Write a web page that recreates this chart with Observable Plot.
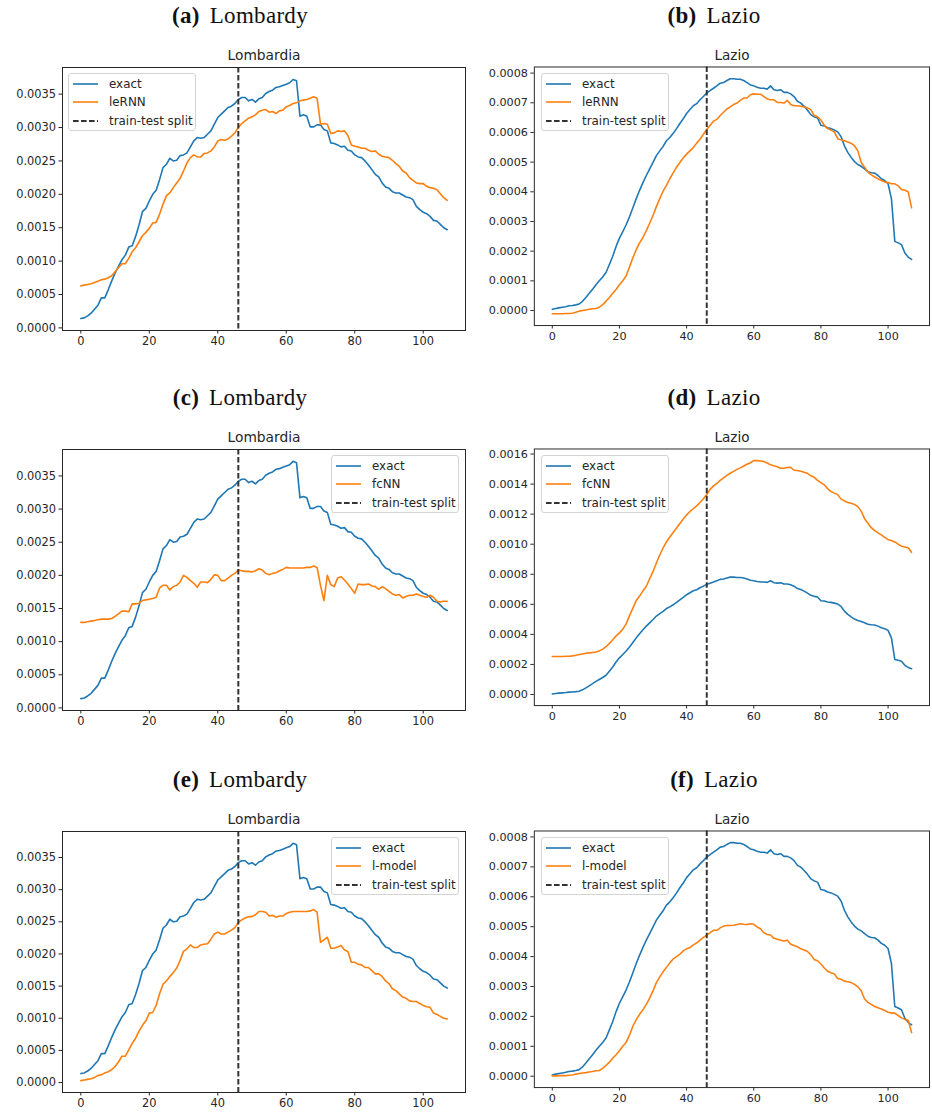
<!DOCTYPE html>
<html><head><meta charset="utf-8">
<script src="https://cdn.jsdelivr.net/npm/d3@7"></script>
<script src="https://cdn.jsdelivr.net/npm/@observablehq/plot@0.6"></script>
<style>
body{margin:0;background:#fff;}
#page{position:relative;width:932px;height:1115px;overflow:hidden;background:#fff;}
.sub{position:absolute;font-family:"Liberation Serif","DejaVu Serif",serif;font-size:23px;color:#111;transform:translate(-50%,-50%);white-space:nowrap;letter-spacing:0.3px;}
.sub b{font-weight:bold;margin-right:10px;}
.panel{position:absolute;}
.legend{position:absolute;box-sizing:border-box;width:128px;height:58px;border:1px solid #d4d4d4;border-radius:3px;background:rgba(255,255,255,0.85);font-family:"DejaVu Sans",sans-serif;font-size:11.9px;color:#262626;padding:0 0 0 3px;}
.legend .row{display:flex;align-items:center;height:18.6px;white-space:nowrap;}
.legend .row:first-child{margin-top:0.5px;}
.legend svg{margin-right:10px;flex:none;}
</style>
</head><body><div id="page"></div>
<script>
// x index (days) and split
const days = d3.range(108);
const splitDay = 46;
const xTicks = [0, 20, 40, 60, 80, 100];

// Lombardy series, values in units of 1e-3
const exactLombardy = [0.14,0.15,0.18,0.22,0.28,0.34,0.45,0.45,0.57,0.70,
0.82,0.92,1.02,1.09,1.21,1.23,1.37,1.54,1.74,1.79,
1.90,2.00,2.06,2.22,2.40,2.45,2.54,2.50,2.51,2.58,
2.59,2.62,2.71,2.80,2.85,2.84,2.85,2.90,2.95,3.05,
3.15,3.20,3.25,3.30,3.32,3.36,3.42,3.45,3.45,3.40,
3.42,3.38,3.43,3.45,3.51,3.54,3.56,3.60,3.61,3.63,
3.65,3.67,3.72,3.70,3.17,3.19,3.17,3.01,3.01,3.04,
3.04,2.97,2.95,2.77,2.76,2.74,2.71,2.72,2.66,2.65,
2.59,2.56,2.55,2.50,2.44,2.37,2.30,2.26,2.17,2.11,
2.09,2.04,2.02,2.02,1.99,1.96,1.95,1.92,1.82,1.77,
1.73,1.71,1.67,1.61,1.60,1.55,1.50,1.47];
const lernnLombardy = [0.63,0.64,0.65,0.66,0.68,0.70,0.72,0.73,0.75,0.78,
0.84,0.90,0.96,0.96,1.04,1.14,1.20,1.29,1.38,1.43,
1.49,1.57,1.58,1.70,1.85,1.98,2.02,2.10,2.17,2.24,
2.35,2.47,2.55,2.59,2.56,2.56,2.61,2.62,2.65,2.71,
2.80,2.82,2.81,2.83,2.87,2.92,3.00,3.06,3.10,3.14,
3.16,3.19,3.24,3.26,3.27,3.23,3.24,3.21,3.25,3.26,
3.31,3.33,3.36,3.37,3.40,3.41,3.42,3.44,3.46,3.44,
3.05,3.06,3.05,2.91,2.92,2.95,2.94,2.95,2.88,2.74,
2.72,2.71,2.69,2.69,2.66,2.64,2.65,2.60,2.57,2.56,
2.55,2.51,2.46,2.42,2.35,2.32,2.25,2.21,2.17,2.16,
2.16,2.12,2.10,2.09,2.07,2.01,1.95,1.91];
const fcnnLombardy = [1.29,1.29,1.30,1.31,1.32,1.33,1.34,1.34,1.34,1.35,
1.38,1.42,1.46,1.46,1.45,1.57,1.57,1.58,1.62,1.63,
1.64,1.65,1.67,1.81,1.85,1.85,1.78,1.83,1.85,1.90,
2.00,1.97,1.92,1.88,1.82,1.90,1.90,1.89,1.94,2.01,
2.00,1.92,1.92,1.96,2.00,2.03,2.08,2.07,2.06,2.06,
2.05,2.07,2.10,2.08,2.03,2.01,2.03,2.04,2.07,2.09,
2.12,2.11,2.11,2.11,2.11,2.11,2.12,2.12,2.14,2.12,
1.85,1.62,2.00,1.86,1.83,1.96,1.98,1.93,1.87,1.80,
1.73,1.87,1.86,1.86,1.87,1.84,1.83,1.79,1.83,1.80,
1.76,1.72,1.70,1.71,1.66,1.68,1.70,1.70,1.72,1.70,
1.68,1.67,1.70,1.67,1.61,1.60,1.61,1.61];
const lmodelLombardy = [0.03,0.04,0.05,0.06,0.08,0.11,0.12,0.15,0.17,0.20,
0.25,0.32,0.41,0.41,0.51,0.61,0.69,0.80,0.89,0.96,
1.08,1.09,1.20,1.38,1.53,1.58,1.65,1.71,1.78,1.90,
2.04,2.08,2.14,2.10,2.10,2.14,2.15,2.16,2.23,2.31,
2.34,2.31,2.31,2.34,2.37,2.41,2.49,2.53,2.56,2.58,
2.58,2.61,2.66,2.66,2.65,2.59,2.60,2.57,2.59,2.59,
2.63,2.65,2.66,2.66,2.66,2.66,2.66,2.67,2.69,2.65,
2.18,2.22,2.26,2.09,2.09,2.11,2.13,2.06,2.04,1.87,
1.87,1.84,1.83,1.79,1.79,1.74,1.69,1.69,1.65,1.58,
1.54,1.46,1.43,1.38,1.33,1.31,1.27,1.26,1.26,1.23,
1.20,1.18,1.17,1.08,1.06,1.03,1.00,0.99];

// Lazio series, values in units of 1e-4
const exactLazio = [0.04,0.07,0.09,0.11,0.13,0.16,0.17,0.19,0.22,0.31,
0.44,0.58,0.72,0.87,1.00,1.13,1.28,1.55,1.83,2.16,
2.44,2.66,2.89,3.16,3.46,3.77,4.05,4.31,4.55,4.77,
4.99,5.22,5.38,5.53,5.72,5.83,5.97,6.13,6.30,6.46,
6.64,6.77,6.90,6.97,7.10,7.21,7.33,7.41,7.49,7.57,
7.66,7.68,7.75,7.81,7.81,7.79,7.79,7.75,7.68,7.60,
7.57,7.52,7.49,7.49,7.46,7.57,7.44,7.41,7.44,7.35,
7.35,7.30,7.21,7.05,6.99,6.88,6.75,6.60,6.53,6.49,
6.24,6.22,6.16,6.13,6.08,6.02,5.86,5.55,5.33,5.16,
5.02,4.92,4.86,4.77,4.68,4.64,4.63,4.55,4.44,4.38,
4.27,3.77,2.33,2.28,2.22,1.94,1.80,1.72];
const lernnLazio = [-0.11,-0.11,-0.11,-0.11,-0.10,-0.10,-0.09,-0.06,-0.02,0.00,
0.02,0.04,0.06,0.07,0.11,0.20,0.31,0.44,0.58,0.71,
0.87,1.00,1.17,1.47,1.78,2.05,2.28,2.46,2.69,2.94,
3.20,3.50,3.77,4.02,4.22,4.44,4.64,4.83,4.99,5.14,
5.27,5.38,5.49,5.64,5.77,5.94,6.10,6.24,6.38,6.44,
6.57,6.68,6.79,6.86,6.94,6.99,7.08,7.16,7.16,7.27,
7.30,7.29,7.29,7.21,7.13,7.10,7.10,7.01,7.01,6.99,
7.08,6.94,6.90,6.90,6.88,6.86,6.83,6.77,6.57,6.53,
6.42,6.24,6.13,6.08,6.02,5.79,5.75,5.72,5.68,5.64,
5.55,5.38,4.99,4.83,4.66,4.57,4.50,4.44,4.38,4.33,
4.31,4.27,4.27,4.20,4.08,4.05,4.00,3.46];
const fcnnLazio = [2.53,2.53,2.53,2.53,2.54,2.55,2.57,2.61,2.66,2.70,
2.74,2.77,2.80,2.83,2.90,3.02,3.18,3.40,3.65,3.90,
4.10,4.35,4.70,5.25,5.75,6.25,6.55,6.90,7.20,7.70,
8.19,8.75,9.28,9.75,10.15,10.48,10.78,11.08,11.38,11.68,
11.95,12.18,12.36,12.55,12.78,13.03,13.31,13.65,13.88,14.05,
14.25,14.42,14.58,14.72,14.85,14.98,15.08,15.20,15.32,15.42,
15.56,15.56,15.54,15.50,15.40,15.28,15.22,15.15,15.05,15.05,
15.10,15.12,14.92,14.90,14.85,14.78,14.72,14.55,14.45,14.25,
14.10,13.95,13.70,13.50,13.40,13.30,13.00,12.88,12.78,12.72,
12.65,12.50,12.20,11.70,11.40,11.10,10.90,10.75,10.62,10.45,
10.30,10.25,10.15,10.00,9.87,9.82,9.76,9.46];
const lmodelLazio = [0.01,0.01,0.02,0.02,0.02,0.03,0.04,0.07,0.09,0.11,
0.12,0.14,0.16,0.18,0.19,0.26,0.36,0.47,0.60,0.72,
0.85,1.00,1.13,1.38,1.67,1.89,2.07,2.22,2.40,2.61,
2.86,3.13,3.32,3.49,3.64,3.79,3.92,4.00,4.08,4.19,
4.26,4.30,4.39,4.46,4.55,4.64,4.72,4.80,4.88,4.88,
4.96,5.02,5.04,5.04,5.05,5.07,5.10,5.08,5.07,5.10,
5.08,4.99,4.93,4.80,4.74,4.72,4.61,4.58,4.55,4.52,
4.55,4.41,4.37,4.33,4.26,4.22,4.17,4.06,3.90,3.86,
3.75,3.62,3.51,3.46,3.42,3.27,3.24,3.18,3.16,3.13,
3.07,2.99,2.86,2.58,2.47,2.40,2.33,2.29,2.25,2.20,
2.14,2.11,2.11,2.03,1.95,1.90,1.87,1.46];

// y tick labels
const lombardyTicks = [0, 0.0005, 0.0010, 0.0015, 0.0020, 0.0025, 0.0030, 0.0035];
const lazioTicks = [0, 0.0001, 0.0002, 0.0003, 0.0004, 0.0005, 0.0006, 0.0007, 0.0008];
const lazioFcnnTicks = [0, 0.0002, 0.0004, 0.0006, 0.0008, 0.0010, 0.0012, 0.0014, 0.0016];

// panel texts
const subLetters = ["(a)", "(b)", "(c)", "(d)", "(e)", "(f)"];
const subNames = ["Lombardy", "Lazio", "Lombardy", "Lazio", "Lombardy", "Lazio"];
const axTitles = ["Lombardia", "Lazio", "Lombardia", "Lazio", "Lombardia", "Lazio"];
const modelNames = ["leRNN", "leRNN", "fcNN", "fcNN", "l-model", "l-model"];
const splitLabel = "train-test split";

const panels = [
  {exact: exactLombardy, pred: lernnLombardy, unit: 1e-3, ticks: lombardyTicks, legend: "left"},
  {exact: exactLazio, pred: lernnLazio, unit: 1e-4, ticks: lazioTicks, legend: "left"},
  {exact: exactLombardy, pred: fcnnLombardy, unit: 1e-3, ticks: lombardyTicks, legend: "right"},
  {exact: exactLazio, pred: fcnnLazio, unit: 1e-4, ticks: lazioFcnnTicks, legend: "left"},
  {exact: exactLombardy, pred: lmodelLombardy, unit: 1e-3, ticks: lombardyTicks, legend: "right"},
  {exact: exactLazio, pred: lmodelLazio, unit: 1e-4, ticks: lazioTicks, legend: "left"}
];

// layout
const rowFrameTop = [67, 449, 831];
const rowFrameBottom = [330, 710, 1092];
const rowSubY = [16, 398, 780];
const colSubX = [240, 714];
const BLUE = "#1f77b4", ORANGE = "#ff7f0e", DASH = "#333333";

const page = document.getElementById("page");

panels.forEach((p, i) => {
  const row = Math.floor(i / 2), col = i % 2;
  const fT = rowFrameTop[row], fB = rowFrameBottom[row];
  const left = col === 0 ? 0 : 466;
  const width = col === 0 ? 466 : 474;
  const mL = col === 0 ? 62 : 69;
  const mR = col === 0 ? 1 : 3;
  const mT = 30, mB = 26;
  const height = mT + (fB - fT) + mB;
  const model = modelNames[i];

  const data = [
    ...days.map(d => ({day: d, value: p.exact[d] * p.unit, series: "exact"})),
    ...days.map(d => ({day: d, value: p.pred[d] * p.unit, series: model}))
  ];
  const [lo, hi] = d3.extent(data, d => d.value);
  const pad = (hi - lo) * 0.05;
  const [x0, x1] = d3.extent(days);
  const xpad = (x1 - x0) * 0.05;

  const chart = Plot.plot({
    width, height,
    marginLeft: mL, marginRight: mR, marginTop: mT, marginBottom: mB,
    style: {fontFamily: "'DejaVu Sans', sans-serif", fontSize: "11.4px", color: "#262626", background: "transparent", overflow: "visible"},
    x: {domain: [x0 - xpad, x1 + xpad]},
    y: {domain: [lo - pad, hi + pad]},
    color: {domain: ["exact", model], range: [BLUE, ORANGE]},
    marks: [
      Plot.lineY(data, {x: "day", y: "value", stroke: "series", strokeWidth: 1.6}),
      Plot.ruleX([splitDay], {stroke: DASH, strokeWidth: 2, strokeDasharray: "5.6,2.4"}),
      Plot.frame({stroke: "#262626", strokeWidth: 1}),
      Plot.axisX({ticks: xTicks, tickSize: 3.5, tickPadding: 3, label: null, tickFormat: d => String(d)}),
      Plot.axisY({ticks: p.ticks, tickSize: 3.5, tickPadding: 3, label: null, tickFormat: d3.format(".4f")}),
      Plot.text([axTitles[i]], {text: d => d, frameAnchor: "top", lineAnchor: "middle", dy: -12, fontSize: 13.8, fill: "#262626"})
    ]
  });
  const div = document.createElement("div");
  div.className = "panel";
  div.style.left = left + "px";
  div.style.top = (fT - mT) + "px";
  div.appendChild(chart);
  page.appendChild(div);

  // subfigure caption
  const sub = document.createElement("div");
  sub.className = "sub";
  sub.style.left = colSubX[col] + "px";
  sub.style.top = rowSubY[row] + "px";
  sub.innerHTML = `<b>${subLetters[i]}</b>${subNames[i]}`;
  page.appendChild(sub);

  // legend inside axes
  const frameLeft = left + mL, frameRight = left + width - mR;
  const leg = document.createElement("div");
  leg.className = "legend";
  leg.style.top = (fT + 6) + "px";
  leg.style.left = (p.legend === "left" ? frameLeft + 6 : Math.min(frameRight, 465) - 6 - 128) + "px";
  const items = [
    {label: "exact", color: BLUE, dash: null, w: 1.6},
    {label: model, color: ORANGE, dash: null, w: 1.6},
    {label: splitLabel, color: DASH, dash: "5.6,2.4", w: 2}
  ];
  items.forEach(it => {
    const r = document.createElement("div");
    r.className = "row";
    r.innerHTML = `<svg width="27" height="6"><line x1="1" x2="26" y1="3" y2="3" stroke="${it.color}" stroke-width="${it.w}" ${it.dash ? `stroke-dasharray="${it.dash}"` : ""}/></svg><span>${it.label}</span>`;
    leg.appendChild(r);
  });
  page.appendChild(leg);
});
</script>
</body></html>
